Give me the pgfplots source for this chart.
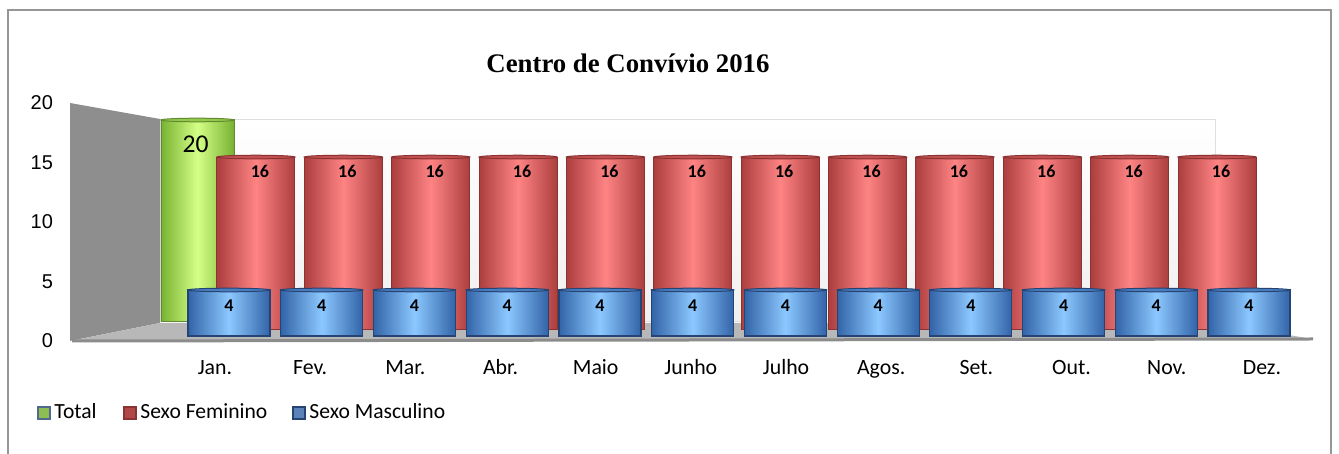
\documentclass[border=0pt]{standalone}
\usepackage{fontspec}
\setmainfont{Carlito}
\newfontfamily\titlefont{Liberation Serif}
\newfontfamily\arialfont{Liberation Sans}
\usepackage{pgfplots}
\usepackage{pgfplotstable}
\pgfplotsset{compat=1.18}
\pgfplotsset{/pgf/number format/assume math mode=true}

\definecolor{redE}{RGB}{172,62,62}
\definecolor{redM}{RGB}{255,132,132}
\definecolor{redB}{RGB}{140,50,50}
\definecolor{bluE}{RGB}{50,100,168}
\definecolor{bluM}{RGB}{140,200,255}
\definecolor{bluB}{RGB}{38,68,115}
\definecolor{grnE}{RGB}{120,178,50}
\definecolor{grnM}{RGB}{212,255,135}
\definecolor{grnB}{RGB}{98,138,48}
\definecolor{frameC}{RGB}{150,150,150}
\definecolor{sideC}{RGB}{142,142,142}
\definecolor{floorC}{RGB}{184,184,184}
\definecolor{edgeC}{RGB}{140,140,140}

\pgfdeclareplotmark{cyltop}{%
  \pgfpathellipse{\pgfpointorigin}{\pgfqpoint{\pgfplotmarksize}{0pt}}{\pgfqpoint{0pt}{0.9pt}}%
  \pgfusepathqfillstroke}

\pgfplotstableread{
x total
1 20
}\totaltab
\pgfplotstableread{
x fem
1 16
2 16
3 16
4 16
5 16
6 16
7 16
8 16
9 16
10 16
11 16
12 16
}\femtab
\pgfplotstableread{
x masc
1 4
2 4
3 4
4 4
5 4
6 4
7 4
8 4
9 4
10 4
11 4
12 4
}\masctab

\pgfplotsset{cyl/.style={scale only axis, hide axis, clip=false, anchor=south west,
  xmin=0.5, xmax=12.5, ymin=0, ymax=20}}

\begin{document}
\begin{tikzpicture}[x=0.5pt,y=0.5pt]
\useasboundingbox (0,0) rectangle (1339,454);
\clip (0,0) rectangle (1339,454);
% frame
\draw[frameC, line width=1pt] (8,-20) -- (8,444) -- (1331,444) -- (1331,-20);
% back wall
\fill[top color=white, bottom color=gray!12] (160,334) rectangle (1215,132);
\draw[gray!25, line width=0.5pt] (160,334) rectangle (1215,132);
% side wall
\fill[sideC] (70,351) -- (160,335) -- (160,131) -- (70,113) -- cycle;
% floor
\fill[floorC] (70,113) -- (160,131) -- (1215,131) -- (1313,115) -- cycle;
\draw[edgeC, line width=1.5pt] (72,113) -- (1313,115);

% Total (back row)
\begin{axis}[cyl, at={(78.25pt,66pt)}, width=492pt, height=101pt]
\addplot[ybar, bar width=36.5pt, bar shift=0pt, draw=grnB, line width=0.5pt,
  left color=grnE, right color=grnE, middle color=grnM,
  nodes near coords,
  nodes near coords style={font=\fontsize{12.8}{14}\selectfont, text=black, anchor=center, inner sep=0pt, yshift=-12pt, xshift=-1pt}]
  table[x=x, y=total] {\totaltab};
\addplot[only marks, mark=cyltop, mark size=18.25pt, mark options={draw=grnB, fill=grnE!70!grnM, line width=0.5pt}]
  table[x=x, y=total] {\totaltab};
\end{axis}

% Sexo Feminino (middle row)
\begin{axis}[cyl, at={(106.15pt,62pt)}, width=524.2pt, height=108.1pt]
\pgfplotsinvokeforeach{1,...,12}{
\addplot[ybar, bar width=39pt, bar shift=0pt, draw=redB, line width=0.5pt,
  left color=redE, right color=redE, middle color=redM,
  restrict x to domain=#1:#1,
  nodes near coords,
  nodes near coords style={font=\bfseries\fontsize{9}{10}\selectfont, text=black, anchor=center, inner sep=0pt, yshift=-7pt, xshift=2pt}]
  table[x=x, y=fem] {\femtab};
}
\addplot[only marks, mark=cyltop, mark size=19.5pt, mark options={draw=redB, fill=redE!75!redM, line width=0.5pt}]
  table[x=x, y=fem] {\femtab};
\end{axis}

% Sexo Masculino (front row)
\begin{axis}[cyl, at={(91.3pt,59pt)}, width=556.4pt, height=115pt]
\pgfplotsinvokeforeach{1,...,12}{
\addplot[ybar, bar width=41pt, bar shift=0pt, draw=bluB, line width=0.6pt,
  left color=bluE, right color=bluE, middle color=bluM,
  restrict x to domain=#1:#1,
  nodes near coords,
  nodes near coords style={font=\bfseries\fontsize{9}{10}\selectfont, text=black, anchor=center, inner sep=0pt, yshift=-8pt}]
  table[x=x, y=masc] {\masctab};
}
\addplot[only marks, mark=cyltop, mark size=20.5pt, mark options={draw=bluB, fill=bluE!75!bluM, line width=0.5pt}]
  table[x=x, y=masc] {\masctab};
\end{axis}

% tick labels
\begin{axis}[scale only axis, clip=false, anchor=south west, at={(35pt,56.5pt)},
  width=620pt, height=119pt, xmin=-0.523, xmax=12.505, ymin=0, ymax=20,
  axis line style={draw=none}, major tick length=0pt,
  ytick={0,5,10,15,20},
  xtick={1,2,3,4,5,6,7,8,9,10,11,12},
  xticklabels={Jan.,Fev.,Mar.,Abr.,Maio,Junho,Julho,Agos.,Set.,Out.,Nov.,Dez.},
  yticklabel style={font=\arialfont\fontsize{10}{11}\selectfont, xshift=-5pt},
  xticklabel style={font=\fontsize{10.9}{12}\selectfont, anchor=base, yshift=-17pt}]
\end{axis}

% legend
\begin{scope}[font=\fontsize{10.8}{12}\selectfont]
\filldraw[fill=grnE!85!white, draw=bluB!80, line width=0.6pt] (38,35) rectangle (50,47);
\node[anchor=base west, inner sep=0pt] at (54,35) {Total};
\filldraw[fill=redE!95!white, draw=redB, line width=0.6pt] (124,35) rectangle (136,47);
\node[anchor=base west, inner sep=0pt] at (140,35) {Sexo Feminino};
\filldraw[fill=bluE!80!white, draw=bluB, line width=0.6pt] (293,35) rectangle (305,47);
\node[anchor=base west, inner sep=0pt] at (309,35) {Sexo Masculino};
\end{scope}

% title
\node[anchor=base, inner sep=0pt, font=\titlefont\bfseries\fontsize{13.4}{15}\selectfont] at (628,381) {Centro de Convívio 2016};
\end{tikzpicture}
\end{document}
